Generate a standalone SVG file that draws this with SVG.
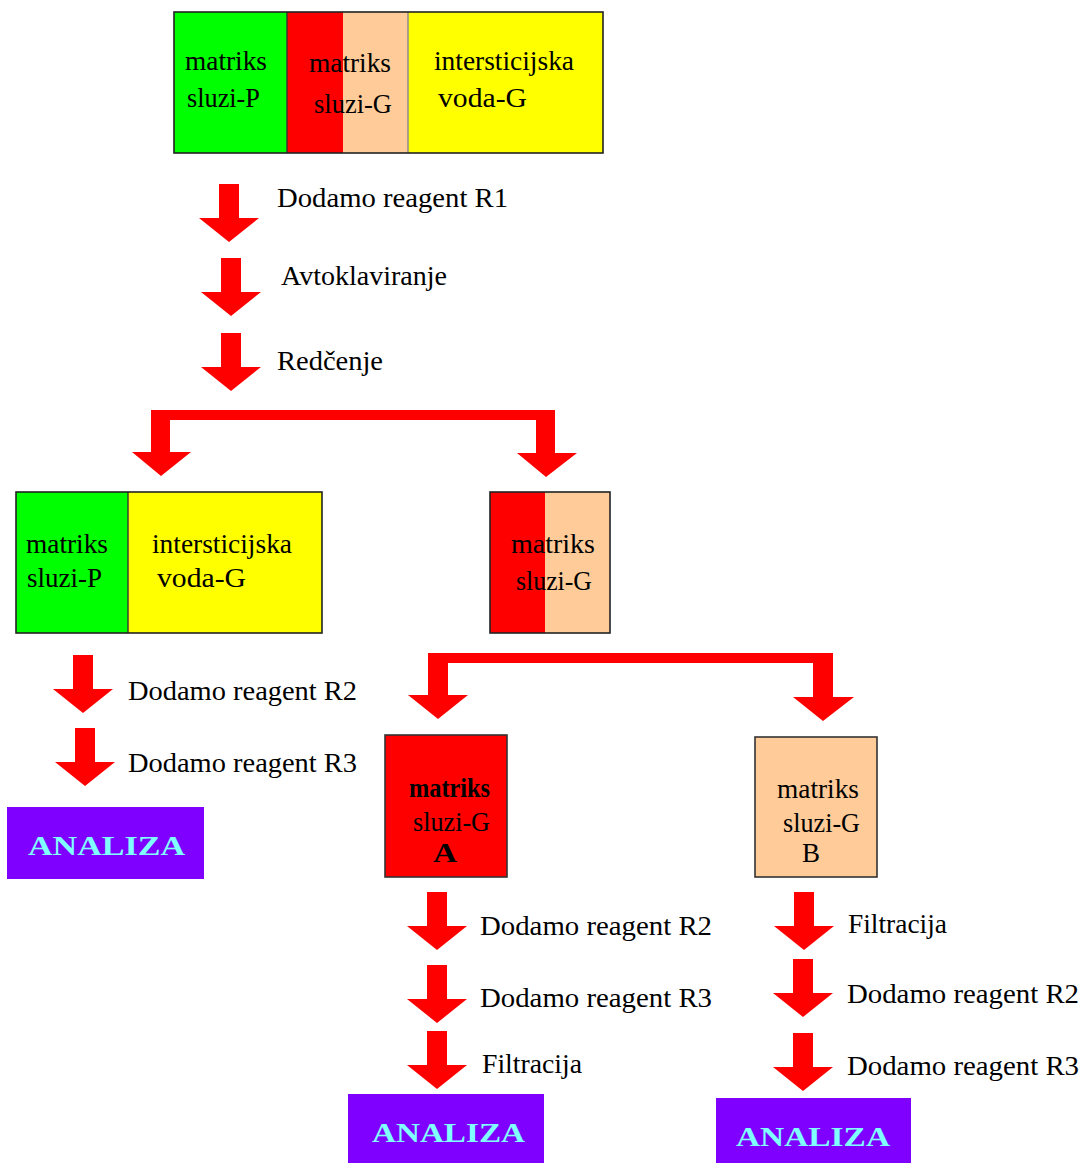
<svg xmlns="http://www.w3.org/2000/svg" width="1081" height="1163" viewBox="0 0 1081 1163">
<style>
.t{font-family:'Liberation Serif','Times New Roman',serif;font-size:27px;fill:#000}
.b{font-weight:bold}
.an{font-family:'Liberation Serif','Times New Roman',serif;font-size:28px;font-weight:bold;fill:#80ffff}
.ol{fill:none;stroke:#222;stroke-width:1.6}
.div{stroke:#333;stroke-width:1.4}
.arr{fill:#ff0000}
</style>
<defs>
<path id="dn" d="M-10,0 H10 V34 H30 L0,58 L-30,34 H-10 Z"/>
</defs>
<rect width="1081" height="1163" fill="#fff"/>

<g id="connectors" class="arr">
<use href="#dn" x="229" y="184"/>
<use href="#dn" x="231" y="258"/>
<use href="#dn" x="231" y="333"/>
<path d="M151,452 V410 H555 V453 H577 L546,477 L517,453 H536 V420 H170 V452 H191 L161,476 L132,452 Z"/>
<use href="#dn" x="83" y="655"/>
<use href="#dn" x="85" y="728"/>
<path d="M428,695 V653 H833 V697 H854 L823,721 L793,697 H813 V663 H448 V695 H468 L438,719 L408,695 Z"/>
<use href="#dn" x="437" y="892"/>
<use href="#dn" x="437" y="965"/>
<use href="#dn" x="437" y="1031"/>
<use href="#dn" x="804" y="892"/>
<use href="#dn" x="803" y="959"/>
<use href="#dn" x="803" y="1033"/>
</g>

<g id="labels">
<text class="t" x="277" y="207" textLength="231" lengthAdjust="spacingAndGlyphs">Dodamo reagent R1</text>
<text class="t" x="281" y="285" textLength="166" lengthAdjust="spacingAndGlyphs">Avtoklaviranje</text>
<text class="t" x="277" y="370" textLength="106" lengthAdjust="spacingAndGlyphs">Redčenje</text>
<text class="t" x="128" y="700" textLength="229" lengthAdjust="spacingAndGlyphs">Dodamo reagent R2</text>
<text class="t" x="128" y="772" textLength="229" lengthAdjust="spacingAndGlyphs">Dodamo reagent R3</text>
<text class="t" x="480" y="935" textLength="232" lengthAdjust="spacingAndGlyphs">Dodamo reagent R2</text>
<text class="t" x="480" y="1007" textLength="232" lengthAdjust="spacingAndGlyphs">Dodamo reagent R3</text>
<text class="t" x="482" y="1073" textLength="100" lengthAdjust="spacingAndGlyphs">Filtracija</text>
<text class="t" x="848" y="933" textLength="99" lengthAdjust="spacingAndGlyphs">Filtracija</text>
<text class="t" x="847" y="1003" textLength="232" lengthAdjust="spacingAndGlyphs">Dodamo reagent R2</text>
<text class="t" x="847" y="1075" textLength="232" lengthAdjust="spacingAndGlyphs">Dodamo reagent R3</text>
</g>

<g id="top-sample">
<rect x="174" y="12" width="113" height="141" fill="#00ff00"/>
<rect x="287" y="12" width="56" height="141" fill="#ff0000"/>
<rect x="343" y="12" width="65" height="141" fill="#ffcc99"/>
<rect x="408" y="12" width="195" height="141" fill="#ffff00"/>
<line class="div" x1="287" y1="12" x2="287" y2="153"/>
<line x1="408" y1="12" x2="408" y2="153" stroke="#888" stroke-width="1.4"/>
<rect class="ol" x="174" y="12" width="429" height="141"/>
<text class="t" x="185" y="70" textLength="82" lengthAdjust="spacingAndGlyphs">matriks</text>
<text class="t" x="187" y="107" textLength="73" lengthAdjust="spacingAndGlyphs">sluzi-P</text>
<text class="t" x="309" y="72" textLength="82" lengthAdjust="spacingAndGlyphs">matriks</text>
<text class="t" x="314" y="113" textLength="78" lengthAdjust="spacingAndGlyphs">sluzi-G</text>
<text class="t" x="434" y="70" textLength="140" lengthAdjust="spacingAndGlyphs">intersticijska</text>
<text class="t" x="438" y="107" textLength="89" lengthAdjust="spacingAndGlyphs">voda-G</text>
</g>

<g id="fraction-P">
<rect x="16" y="492" width="112" height="141" fill="#00ff00"/>
<rect x="128" y="492" width="194" height="141" fill="#ffff00"/>
<line class="div" x1="128" y1="492" x2="128" y2="633"/>
<rect class="ol" x="16" y="492" width="306" height="141"/>
<text class="t" x="26" y="553" textLength="82" lengthAdjust="spacingAndGlyphs">matriks</text>
<text class="t" x="27" y="587" textLength="75" lengthAdjust="spacingAndGlyphs">sluzi-P</text>
<text class="t" x="152" y="553" textLength="140" lengthAdjust="spacingAndGlyphs">intersticijska</text>
<text class="t" x="157" y="587" textLength="89" lengthAdjust="spacingAndGlyphs">voda-G</text>
</g>

<g id="fraction-G">
<rect x="490" y="492" width="55" height="141" fill="#ff0000"/>
<rect x="545" y="492" width="65" height="141" fill="#ffcc99"/>
<rect class="ol" x="490" y="492" width="120" height="141"/>
<text class="t" x="511" y="553" textLength="84" lengthAdjust="spacingAndGlyphs">matriks</text>
<text class="t" x="516" y="590" textLength="76" lengthAdjust="spacingAndGlyphs">sluzi-G</text>
</g>

<g id="fraction-A">
<rect x="385" y="735" width="122" height="142" fill="#ff0000" stroke="#333" stroke-width="1.6"/>
<text class="t b" x="409" y="797" textLength="81" lengthAdjust="spacingAndGlyphs">matriks</text>
<text class="t" x="413" y="831" textLength="77" lengthAdjust="spacingAndGlyphs">sluzi-G</text>
<text class="t b" x="433" y="862" font-size="21" textLength="24" lengthAdjust="spacingAndGlyphs">A</text>
</g>

<g id="fraction-B">
<rect x="755" y="737" width="122" height="140" fill="#ffcc99" stroke="#333" stroke-width="1.6"/>
<text class="t" x="777" y="798" textLength="82" lengthAdjust="spacingAndGlyphs">matriks</text>
<text class="t" x="783" y="832" textLength="77" lengthAdjust="spacingAndGlyphs">sluzi-G</text>
<text class="t" x="802" y="862" font-size="21" textLength="18" lengthAdjust="spacingAndGlyphs">B</text>
</g>

<g id="analiza-1">
<rect x="7" y="807" width="197" height="72" fill="#8000ff"/>
<text class="an" x="28" y="855" textLength="157" lengthAdjust="spacingAndGlyphs">ANALIZA</text>
</g>
<g id="analiza-2">
<rect x="348" y="1094" width="196" height="69" fill="#8000ff"/>
<text class="an" x="372" y="1142" textLength="153" lengthAdjust="spacingAndGlyphs">ANALIZA</text>
</g>
<g id="analiza-3">
<rect x="716" y="1098" width="195" height="65" fill="#8000ff"/>
<text class="an" x="736" y="1146" textLength="154" lengthAdjust="spacingAndGlyphs">ANALIZA</text>
</g>
</svg>
